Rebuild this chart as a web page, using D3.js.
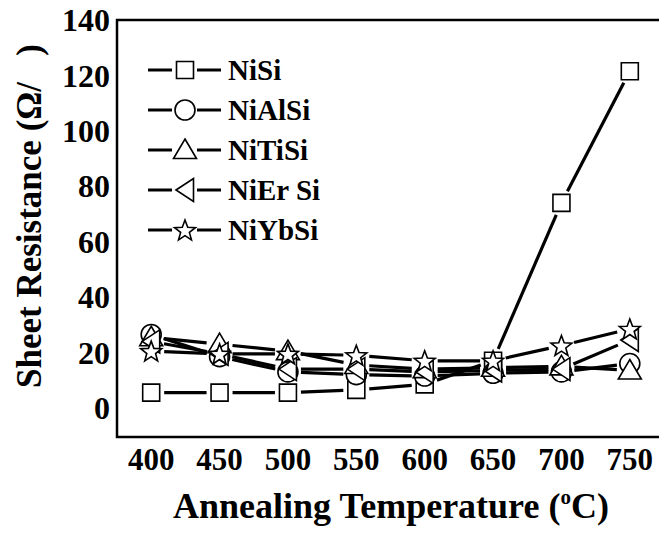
<!DOCTYPE html>
<html>
<head>
<meta charset="utf-8">
<script src="https://cdn.jsdelivr.net/npm/d3@7"></script>
<style>
  body { margin: 0; background: #fff; }
  svg { display: block; }
  text { font-family: "Liberation Serif", "Times New Roman", serif; font-weight: bold; fill: #000; }
</style>
</head>
<body>
<svg id="chart" width="659" height="538"></svg>
<script>
// temperatures (°C)
const temps = [400, 450, 500, 550, 600, 650, 700, 750];
// sheet resistance values
const niSi   = [5.5, 5.5, 5.5, 6.5, 8.5, 17, 74, 121.5];
const niAlSi = [26.5, 18.5, 13, 12, 11.5, 12.5, 13, 16];
const niTiSi = [25.5, 23, 20.5, 15.5, 14, 14.5, 15, 13.5];
const niErSi = [24, 19.5, 14, 14, 13, 13.5, 14, 24.5];
const niYbSi = [20.5, 19.5, 19.5, 19, 17, 17, 22.5, 28.5];

const seriesNames = ['NiSi', 'NiAlSi', 'NiTiSi', 'NiEr Si', 'NiYbSi'];
const seriesVals = [niSi, niAlSi, niTiSi, niErSi, niYbSi];
const seriesSymbols = ['square', 'circle', 'triangle', 'left', 'star'];

const yTicks = [0, 20, 40, 60, 80, 100, 120, 140];

const svg = d3.select('#chart');

const frame = {left: 117, top: 20, right: 664, bottom: 437};

const x = d3.scaleLinear().domain([375, 775]).range([frame.left, frame.right]);
const y = d3.scaleLinear().domain([-10.5, 140]).range([frame.bottom, frame.top]);

// marker shapes, centred on 0,0
function symbolPath(kind) {
    if (kind === 'square') return 'M-8.5,-8.5H8.5V8.5H-8.5Z';
    if (kind === 'circle') {
        const p = d3.path();
        p.arc(0, 0, 10, 0, 2 * Math.PI);
        return p.toString();
    }
    if (kind === 'triangle') return 'M0,-11L11.5,8.5L-11.5,8.5Z';
    if (kind === 'left') return 'M-9,0L8.5,-11.5L8.5,11.5Z';
    // star
    const pts = [];
    for (let i = 0; i < 10; i++) {
        const r = i % 2 === 0 ? 11 : 4.6;
        const a = -Math.PI / 2 + i * Math.PI / 5;
        pts.push([r * Math.cos(a), r * Math.sin(a) + 1]);
    }
    return 'M' + pts.map(p => p.join(',')).join('L') + 'Z';
}

// frame
svg.append('path')
    .attr('d', `M${frame.right},${frame.top}H${frame.left}V${frame.bottom}H${frame.right}`)
    .attr('fill', 'none')
    .attr('stroke', '#000')
    .attr('stroke-width', 2.5);

// y tick labels
svg.append('g').selectAll('text')
    .data(yTicks)
    .enter().append('text')
    .attr('x', 110)
    .attr('y', d => y(d))
    .attr('dy', '0.35em')
    .attr('text-anchor', 'end')
    .style('font-size', '32px')
    .text(d => d);

// x tick labels
svg.append('g').selectAll('text')
    .data(temps)
    .enter().append('text')
    .attr('x', d => x(d))
    .attr('y', 470)
    .attr('text-anchor', 'middle')
    .style('font-size', '31px')
    .text(d => d);

// axis titles
const xt = svg.append('text')
    .attr('x', 391)
    .attr('y', 518)
    .attr('text-anchor', 'middle')
    .style('font-size', '36px');
xt.append('tspan').text('Annealing Temperature (');
xt.append('tspan').attr('dy', -14).style('font-size', '21px').text('o');
xt.append('tspan').attr('dy', 14).text('C)');

svg.append('text')
    .attr('transform', 'translate(41,216) rotate(-90)')
    .attr('text-anchor', 'middle')
    .style('font-size', '35px')
    .style('white-space', 'pre')
    .text('Sheet Resistance (\u03A9/\u00A0\u00A0\u00A0)');

// lines with a small gap before each marker
const gap = 13;
seriesVals.forEach(vals => {
    const pts = temps.map((t, i) => [x(t), y(vals[i])]);
    const segs = [];
    for (let i = 0; i < pts.length - 1; i++) {
        const [x0, y0] = pts[i], [x1, y1] = pts[i + 1];
        const len = Math.hypot(x1 - x0, y1 - y0);
        if (len <= 2 * gap) continue;
        const ux = (x1 - x0) / len, uy = (y1 - y0) / len;
        segs.push([x0 + ux * gap, y0 + uy * gap, x1 - ux * gap, y1 - uy * gap]);
    }
    svg.append('g').selectAll('line')
        .data(segs)
        .enter().append('line')
        .attr('x1', d => d[0]).attr('y1', d => d[1])
        .attr('x2', d => d[2]).attr('y2', d => d[3])
        .attr('stroke', '#000')
        .attr('stroke-width', 3.2);
});

// markers
seriesVals.forEach((vals, s) => {
    svg.append('g').selectAll('path')
        .data(temps.map((t, i) => [t, vals[i]]))
        .enter().append('path')
        .attr('d', symbolPath(seriesSymbols[s]))
        .attr('transform', d => `translate(${x(d[0])},${y(d[1])})`)
        .attr('fill', '#fff')
        .attr('stroke', '#000')
        .attr('stroke-width', 1.6);
});

// legend
const legend = svg.append('g');
seriesNames.forEach((name, i) => {
    const cy = 70 + i * 40;
    legend.append('line')
        .attr('x1', 148).attr('x2', 172).attr('y1', cy).attr('y2', cy)
        .attr('stroke', '#000').attr('stroke-width', 3);
    legend.append('line')
        .attr('x1', 197).attr('x2', 221).attr('y1', cy).attr('y2', cy)
        .attr('stroke', '#000').attr('stroke-width', 3);
    legend.append('path')
        .attr('d', symbolPath(seriesSymbols[i]))
        .attr('transform', `translate(185,${cy})`)
        .attr('fill', '#fff')
        .attr('stroke', '#000')
        .attr('stroke-width', 1.6);
    legend.append('text')
        .attr('x', 228)
        .attr('y', cy)
        .attr('dy', '0.35em')
        .style('font-size', '29px')
        .text(name);
});
</script>
</body>
</html>
